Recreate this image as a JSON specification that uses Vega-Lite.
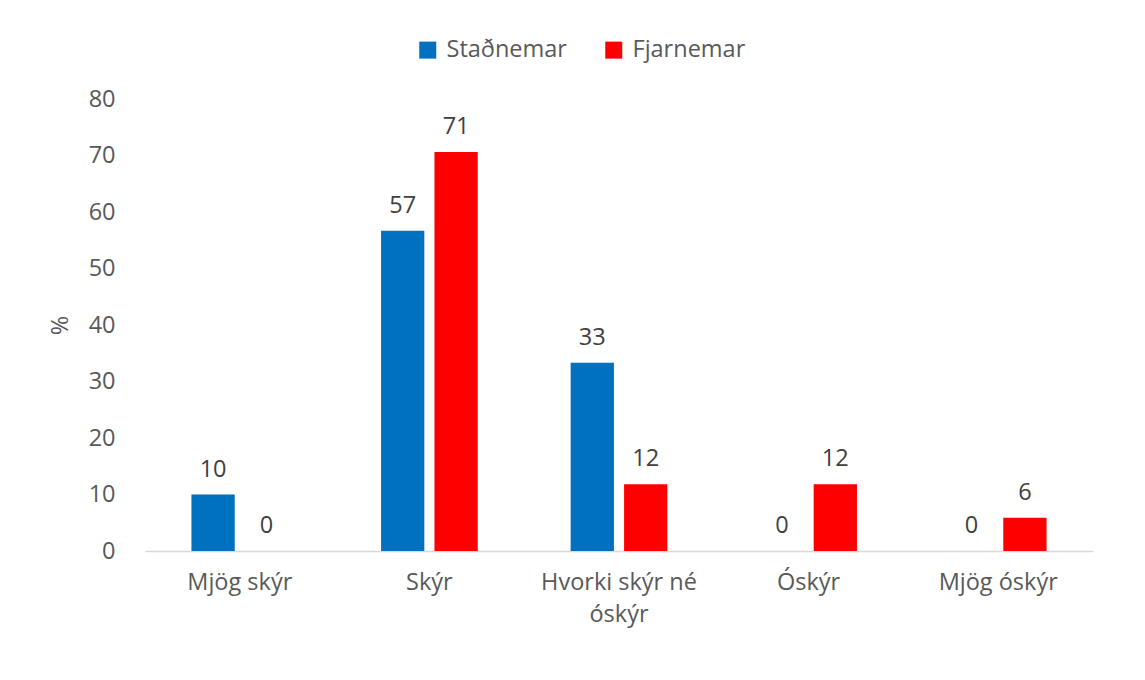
{
  "$schema": "https://vega.github.io/schema/vega-lite/v6.json",
  "width": 948,
  "height": 452,
  "autosize": {"type": "none"},
  "padding": {"left": 145, "top": 99, "right": 52, "bottom": 129},
  "background": "white",
  "config": {
    "view": {"stroke": null},
    "font": "Open Sans",
    "axis": {"labelFont": "Open Sans", "titleFont": "Open Sans", "labelColor": "#595959", "titleColor": "#595959"},
    "legend": {"labelFont": "Open Sans"}
  },
  "data": {
    "values": [
      {"kategoria": "Mjög skýr", "hopur": "Staðnemar", "gildi": 10},
      {"kategoria": "Mjög skýr", "hopur": "Fjarnemar", "gildi": 0},
      {"kategoria": "Skýr", "hopur": "Staðnemar", "gildi": 56.7},
      {"kategoria": "Skýr", "hopur": "Fjarnemar", "gildi": 70.6},
      {"kategoria": "Hvorki skýr né óskýr", "hopur": "Staðnemar", "gildi": 33.3},
      {"kategoria": "Hvorki skýr né óskýr", "hopur": "Fjarnemar", "gildi": 11.8},
      {"kategoria": "Óskýr", "hopur": "Staðnemar", "gildi": 0},
      {"kategoria": "Óskýr", "hopur": "Fjarnemar", "gildi": 11.8},
      {"kategoria": "Mjög óskýr", "hopur": "Staðnemar", "gildi": 0},
      {"kategoria": "Mjög óskýr", "hopur": "Fjarnemar", "gildi": 5.9}
    ]
  },
  "encoding": {
    "x": {
      "field": "kategoria",
      "type": "nominal",
      "sort": ["Mjög skýr", "Skýr", "Hvorki skýr né óskýr", "Óskýr", "Mjög óskýr"],
      "scale": {"paddingInner": 0.49, "paddingOuter": 0.245},
      "axis": {
        "title": null,
        "labelAngle": 0,
        "labelFontSize": 23.5,
        "labelPadding": 19,
        "labelLineHeight": 32,
        "labelBaseline": "top",
        "ticks": false,
        "domainColor": "#d9d9d9",
        "domainWidth": 1.5,
        "labelExpr": "datum.value == 'Hvorki skýr né óskýr' ? ['Hvorki skýr né', 'óskýr'] : datum.value"
      }
    },
    "xOffset": {
      "field": "hopur",
      "type": "nominal",
      "sort": ["Staðnemar", "Fjarnemar"],
      "scale": {"paddingInner": 0.19, "paddingOuter": 0}
    },
    "y": {
      "field": "gildi",
      "type": "quantitative",
      "scale": {"domain": [0, 80], "nice": false},
      "axis": {
        "title": "%",
        "titleFontSize": 23.5,
        "titleFontWeight": "normal",
        "titlePadding": 16,
        "values": [0, 10, 20, 30, 40, 50, 60, 70, 80],
        "labelFontSize": 23.5,
        "labelPadding": 30,
        "grid": false,
        "domain": false,
        "ticks": false
      }
    }
  },
  "layer": [
    {
      "mark": {"type": "bar"},
      "encoding": {
        "color": {
          "field": "hopur",
          "type": "nominal",
          "sort": ["Staðnemar", "Fjarnemar"],
          "scale": {"domain": ["Staðnemar", "Fjarnemar"], "range": ["#0070C0", "#FF0000"]},
          "legend": {
            "title": null,
            "orient": "none",
            "direction": "horizontal",
            "legendX": 271,
            "legendY": -61,
            "symbolType": "square",
            "symbolSize": 289,
            "symbolStrokeWidth": 0,
            "labelFontSize": 23.5,
            "labelColor": "#595959",
            "labelOffset": 7,
            "columnPadding": 35
          }
        }
      }
    },
    {
      "mark": {"type": "text", "baseline": "alphabetic", "dy": -18, "fontSize": 23.5, "color": "#404040"},
      "encoding": {
        "text": {"field": "gildi", "type": "quantitative", "format": ".0f"}
      }
    }
  ]
}
